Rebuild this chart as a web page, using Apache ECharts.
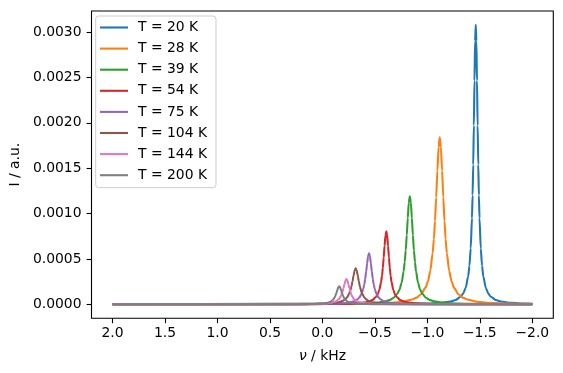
<!DOCTYPE html>
<html>
<head>
<meta charset="utf-8">
<script src="https://cdn.jsdelivr.net/npm/echarts@6/dist/echarts.min.js"></script>
<style>html,body{margin:0;padding:0;background:#fff}#c{width:563px;height:373px}</style>
</head>
<body>
<div id="c"></div>
<script>
const seriesNames = ["T = 20 K","T = 28 K","T = 39 K","T = 54 K","T = 75 K","T = 104 K","T = 144 K","T = 200 K"];
const colors = ["#1f77b4","#ff7f0e","#2ca02c","#d62728","#9467bd","#8c564b","#e377c2","#7f7f7f"];
const xTicks = [2.0,1.5,1.0,0.5,0.0,-0.5,-1.0,-1.5,-2.0];
const yTicks = [0,0.0005,0.001,0.0015,0.002,0.0025,0.003];

const nu20 = [2.0,-0.981,-1.125,-1.221,-1.269,-1.317,-1.341,-1.365,-1.389,-1.401,-1.413,-1.425,-1.431,-1.437,-1.443,-1.449,-1.455,-1.461,-1.467,-1.473,-1.479,-1.485,-1.491,-1.497,-1.509,-1.521,-1.533,-1.557,-1.581,-1.605,-1.653,-1.701,-1.797,-1.941,-2.0];
const I20 = [0,0.0000077,0.0000156,0.0000305,0.0000474,0.0000832,0.0001185,0.000181,0.000308,0.000425,0.000616,0.000948,0.001202,0.00154,0.001971,0.002464,0.002899,0.00308,0.002899,0.002464,0.001971,0.00154,0.001202,0.000948,0.000616,0.000425,0.000308,0.000181,0.0001185,0.0000832,0.0000474,0.0000305,0.0000156,0.0000077,0.0000061];

const nu28 = [2.0,-0.218,-0.488,-0.668,-0.758,-0.848,-0.893,-0.938,-0.983,-1.0055,-1.028,-1.0505,-1.062,-1.073,-1.084,-1.0955,-1.107,-1.118,-1.129,-1.1405,-1.152,-1.163,-1.174,-1.1855,-1.208,-1.2305,-1.253,-1.298,-1.343,-1.388,-1.478,-1.568,-1.748,-2.0];
const I28 = [0,0.0000046,0.0000093,0.0000182,0.0000283,0.0000497,0.0000708,0.000108,0.000184,0.000254,0.000368,0.000566,0.000718,0.00092,0.001178,0.001472,0.001732,0.00184,0.001732,0.001472,0.001178,0.00092,0.000718,0.000566,0.000368,0.000254,0.000184,0.000108,0.0000708,0.0000497,0.0000283,0.0000182,0.0000093,0.0000048];

const nu39 = [2.0,-0.053,-0.287,-0.443,-0.521,-0.599,-0.638,-0.677,-0.716,-0.7355,-0.755,-0.7745,-0.784,-0.794,-0.804,-0.8135,-0.823,-0.833,-0.843,-0.8525,-0.862,-0.872,-0.882,-0.8915,-0.911,-0.9305,-0.95,-0.989,-1.028,-1.067,-1.145,-1.223,-1.379,-1.613,-2.0];
const I39 = [0,0.000003,0.000006,0.0000118,0.0000183,0.0000321,0.0000458,0.00007,0.000119,0.000164,0.000238,0.000366,0.000464,0.000595,0.000762,0.000952,0.00112,0.00119,0.00112,0.000952,0.000762,0.000595,0.000464,0.000366,0.000238,0.000164,0.000119,0.00007,0.0000458,0.0000321,0.0000183,0.0000118,0.000006,0.000003,0.0000013];

const nu54 = [2.0,0.051,-0.147,-0.279,-0.345,-0.411,-0.444,-0.477,-0.51,-0.5265,-0.543,-0.5595,-0.568,-0.576,-0.584,-0.5925,-0.601,-0.609,-0.617,-0.6255,-0.634,-0.642,-0.65,-0.6585,-0.675,-0.6915,-0.708,-0.741,-0.774,-0.807,-0.873,-0.939,-1.071,-1.269,-2.0];
const I54 = [0,0.000002,0.0000041,0.000008,0.0000124,0.0000217,0.000031,0.0000473,0.0000805,0.000111,0.000161,0.000248,0.000314,0.000403,0.000515,0.000644,0.000758,0.000805,0.000758,0.000644,0.000515,0.000403,0.000314,0.000248,0.000161,0.000111,0.0000805,0.0000473,0.000031,0.0000217,0.0000124,0.000008,0.0000041,0.000002,0];

const nu75 = [2.0,0.276,0.06,-0.084,-0.156,-0.228,-0.264,-0.3,-0.336,-0.354,-0.372,-0.39,-0.399,-0.408,-0.417,-0.426,-0.435,-0.444,-0.453,-0.462,-0.471,-0.48,-0.489,-0.498,-0.516,-0.534,-0.552,-0.588,-0.624,-0.66,-0.732,-0.804,-0.948,-1.164,-2.0];
const I75 = [0,0.0000014,0.0000029,0.0000056,0.0000086,0.0000152,0.0000216,0.000033,0.0000562,0.0000775,0.000112,0.000173,0.000219,0.000281,0.00036,0.00045,0.000529,0.000562,0.000529,0.00045,0.00036,0.000281,0.000219,0.000173,0.000112,0.0000775,0.0000562,0.000033,0.0000216,0.0000152,0.0000086,0.0000056,0.0000029,0.0000014,0];

const nu104 = [2.0,0.483,0.243,0.083,0.003,-0.077,-0.117,-0.157,-0.197,-0.217,-0.237,-0.257,-0.267,-0.277,-0.287,-0.297,-0.307,-0.317,-0.327,-0.337,-0.347,-0.357,-0.367,-0.377,-0.397,-0.417,-0.437,-0.477,-0.517,-0.557,-0.637,-0.717,-0.877,-1.117,-2.0];
const I104 = [0,0.000001,0.000002,0.0000039,0.0000061,0.0000107,0.0000152,0.0000233,0.0000396,0.0000546,0.0000792,0.000122,0.0001545,0.000198,0.000253,0.000317,0.000373,0.000396,0.000373,0.000317,0.000253,0.000198,0.0001545,0.000122,0.0000792,0.0000546,0.0000396,0.0000233,0.0000152,0.0000107,0.0000061,0.0000039,0.000002,0.000001,0];

const nu144 = [2.0,0.511,0.289,0.141,0.067,-0.007,-0.044,-0.081,-0.118,-0.1365,-0.155,-0.1735,-0.183,-0.192,-0.201,-0.2105,-0.22,-0.229,-0.238,-0.2475,-0.257,-0.266,-0.275,-0.2845,-0.303,-0.3215,-0.34,-0.377,-0.414,-0.451,-0.525,-0.599,-0.747,-0.969,-2.0];
const I144 = [0,0.0000007,0.0000014,0.0000028,0.0000043,0.0000075,0.0000107,0.0000164,0.0000279,0.0000385,0.0000558,0.0000858,0.000109,0.00014,0.000179,0.000223,0.000263,0.000279,0.000263,0.000223,0.000179,0.00014,0.000109,0.0000858,0.0000558,0.0000385,0.0000279,0.0000164,0.0000107,0.0000075,0.0000043,0.0000028,0.0000014,0.0000007,0];

const nu200 = [2.0,0.52,0.316,0.18,0.112,0.044,0.01,-0.024,-0.058,-0.075,-0.092,-0.109,-0.1175,-0.126,-0.1345,-0.143,-0.1515,-0.16,-0.1685,-0.177,-0.1855,-0.194,-0.2025,-0.211,-0.228,-0.245,-0.262,-0.296,-0.33,-0.364,-0.432,-0.5,-0.636,-0.84,-2.0];
const I200 = [0,0.0000005,0.000001,0.000002,0.0000031,0.0000054,0.0000077,0.0000117,0.0000199,0.0000274,0.0000398,0.0000612,0.0000777,0.0000995,0.000127,0.000159,0.000187,0.000199,0.000187,0.000159,0.000127,0.0000995,0.0000777,0.0000612,0.0000398,0.0000274,0.0000199,0.0000117,0.0000077,0.0000054,0.0000031,0.000002,0.000001,0.0000005,0];

const allNu = [nu20,nu28,nu39,nu54,nu75,nu104,nu144,nu200];
const allI = [I20,I28,I39,I54,I75,I104,I144,I200];

const FONT = "DejaVu Sans";
const FS = 13.9;

const chart = echarts.init(document.getElementById('c'), null, {renderer:'canvas'});
const series = seriesNames.map((name, k) => ({
  name: name,
  type: 'line',
  data: allNu[k].map((x, i) => [x, allI[k][i]]),
  showSymbol: false,
  symbol: 'none',
  smooth: 0.25,
  smoothMonotone: 'x',
  lineStyle: {width: 2.08, color: colors[k]},
  itemStyle: {color: colors[k]},
  emphasis: {disabled: true},
  animation: false
}));

chart.setOption({
  animation: false,
  grid: {left: 89, top: 11, right: 9.7, bottom: 54.7, show: true, borderColor: '#000', borderWidth: 1.1, backgroundColor: 'transparent'},
  xAxis: {
    type: 'value', min: -2.2, max: 2.2, inverse: true,
    axisLine: {show: false, onZero: false},
    splitLine: {show: false},
    axisTick: {show: true, length: 4.9, lineStyle: {color: '#000', width: 1.1}, customValues: xTicks},
    axisLabel: {customValues: xTicks, color: '#000', fontFamily: FONT, fontSize: FS, margin: 8,
      formatter: v => v.toFixed(1).replace('-', '\u2212')},
    name: '{i|\u03bd} / kHz', nameLocation: 'middle', nameGap: 31,
    nameTextStyle: {color: '#000', fontFamily: FONT, fontSize: FS,
      rich: {i: {fontStyle: 'italic', fontFamily: FONT, fontSize: FS, color: '#000'}}}
  },
  yAxis: {
    type: 'value', min: -0.000154, max: 0.003231,
    axisLine: {show: false, onZero: false},
    splitLine: {show: false},
    axisTick: {show: true, length: 4.9, lineStyle: {color: '#000', width: 1.1}, customValues: yTicks},
    axisLabel: {customValues: yTicks, color: '#000', fontFamily: FONT, fontSize: FS, margin: 10,
      formatter: v => v.toFixed(4)},
    name: 'I / a.u.', nameLocation: 'middle', nameGap: 65,
    nameTextStyle: {color: '#000', fontFamily: FONT, fontSize: FS}
  },
  legend: {
    orient: 'vertical', left: 95.7, top: 16,
    data: seriesNames,
    icon: 'rect', itemWidth: 28, itemHeight: 2.1, itemGap: 5.1,
    padding: [3.5, 9, 4.5, 4.3],
    backgroundColor: 'rgba(255,255,255,0.8)', borderColor: '#cccccc', borderWidth: 1, borderRadius: 3,
    textStyle: {color: '#000', fontFamily: FONT, fontSize: FS, lineHeight: 16, padding: [0, 0, 0, 5]},
    selectedMode: false
  },
  series: series
});
</script>
</body>
</html>
